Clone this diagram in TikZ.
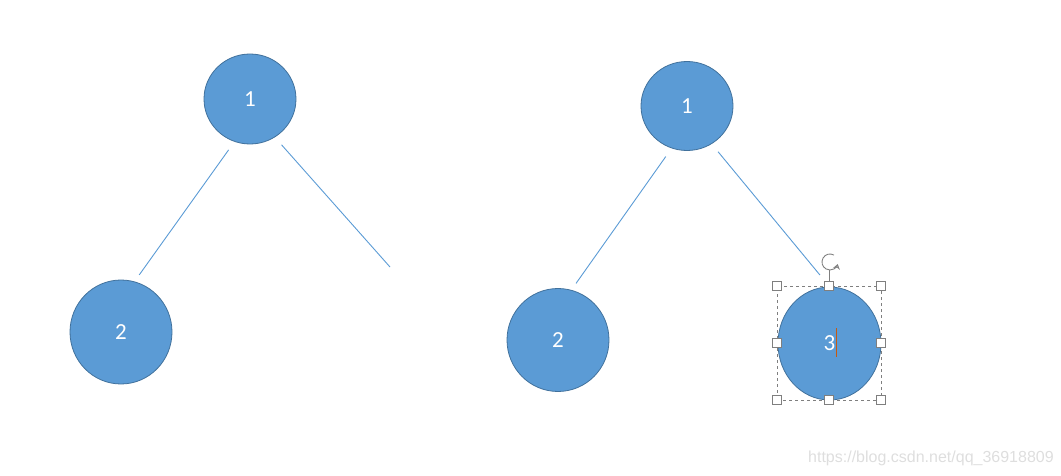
\documentclass[tikz,border=0pt]{standalone}
\usepackage{fontspec}
\setmainfont{Carlito}
\newfontfamily\markfont{Liberation Sans}
\usetikzlibrary{shapes.geometric,arrows.meta}
\definecolor{nodeblue}{HTML}{5B9BD5}
\definecolor{nodeedge}{HTML}{41719C}
\definecolor{handlegray}{HTML}{7F7F7F}
\definecolor{cursororange}{HTML}{C55A11}
\tikzset{
  treenode/.style={ellipse, fill=nodeblue, draw=nodeedge, line width=0.8pt, inner sep=0pt,
    text=white, font=\fontsize{23}{23}\selectfont},
  treeline/.style={draw=nodeblue, line width=0.9pt},
  handle/.style={rectangle, draw=handlegray, fill=white, minimum size=9pt, inner sep=0pt, line width=0.8pt},
}
\begin{document}
\begin{tikzpicture}[x=1pt,y=-1pt]
\useasboundingbox (0,0) rectangle (1061,476);
% left tree
\node[treenode, minimum width=92pt, minimum height=90pt] (la) at (250,99) {1};
\node[treenode, minimum width=102pt, minimum height=104pt] (lb) at (121,332) {2};
\coordinate (lc) at (390,267);
\draw[treeline, shorten <=10pt, shorten >=8pt] (la.250) -- (lb.75);
\draw[treeline, shorten <=10pt] (la.303) -- (lc);
% right tree
\node[treenode, minimum width=92pt, minimum height=89pt] (ra) at (687,106) {1};
\node[treenode, minimum width=102pt, minimum height=103pt] (rb) at (558,340) {2};
\node[treenode, minimum width=103pt, minimum height=113pt] (rc) at (829.5,343.5) {3\hspace{4pt}};
\draw[treeline, shorten <=10pt, shorten >=8pt] (ra.250) -- (rb.75);
\draw[treeline, shorten <=10pt, shorten >=15pt] (ra.303) -- (rc.north);
% selection frame
\node[draw=handlegray, dashed, line width=0.6pt, minimum width=104pt, minimum height=114pt, inner sep=0pt] (sel) at (829,343) {};
\coordinate (rot) at (830,262);
\draw[handlegray, line width=0.8pt] (sel.north) -- (829,270);
\draw[handlegray, line width=0.9pt, -{Stealth[length=5pt, width=7pt, open]}] (rot) ++(-60:8) arc[start angle=-60, end angle=-345, radius=8];
\foreach \a/\n in {north west/nw, north/n, north east/ne, east/e, south east/se, south/s, south west/sw, west/w}
  \node[handle] (h\n) at (sel.\a) {};
\draw[cursororange, line width=1pt] (836,328) -- (836,357);
\node[anchor=west, text=black!13, font=\markfont\fontsize{16}{16}\selectfont, inner sep=0pt] (mark) at (808,458) {https://blog.csdn.net/qq\_36918809};
\end{tikzpicture}
\end{document}
